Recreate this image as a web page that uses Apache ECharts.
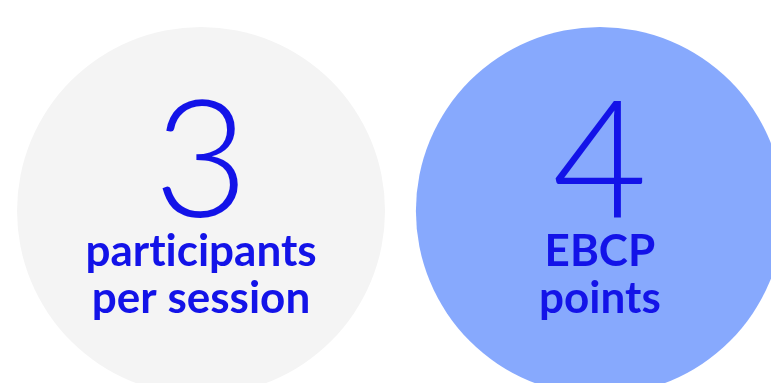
<!DOCTYPE html>
<html>
<head>
<meta charset="utf-8">
<script src="https://cdn.jsdelivr.net/npm/echarts@6/dist/echarts.min.js"></script>
<style>
  html, body { margin: 0; padding: 0; background: #fff; }
  #chart { width: 771px; height: 383px; }
</style>
</head>
<body>
<div id="chart"></div>
<script>
  // one bubble per fact
  const categories = ['participants', 'ebcp']
  const values = [3, 4]
  // \u200c keeps Lato from joining "ti" into a ligature
  const captions = ['part\u200cicipants\nper session', 'EBCP\npoints']
  const fills = ['#f4f4f4', '#87a9fd']

  const textBlue = '#1313e8'

  const chart = echarts.init(document.getElementById('chart'))

  chart.setOption({
    animation: false,
    grid: { left: 0, right: 0, top: 0, bottom: 0 },
    xAxis: {
      type: 'value',
      // bubble 0 sits at x≈201px, bubble 1 at x≈600px
      min: -0.504,
      max: 1.429,
      show: false,
    },
    yAxis: {
      type: 'value',
      min: 0.092,
      max: 1,
      show: false,
    },
    series: [
      {
        type: 'scatter',
        symbol: 'circle',
        symbolSize: 368,
        silent: true,
        data: values.map((v, i) => ({
          value: [i, 0.5],
          name: categories[i],
          itemStyle: { color: fills[i], opacity: 1 },
          label: {
            formatter: () =>
              `{num|${v}}\n` +
              captions[i]
                .split('\n')
                .map((line) => `{txt|${line}}`)
                .join('\n'),
          },
        })),
        label: {
          show: true,
          position: 'inside',
          align: 'center',
          rich: {
            num: {
              fontFamily: 'Lato',
              fontWeight: 300,
              fontSize: 164,
              lineHeight: 129,
              color: textBlue,
              align: 'center',
            },
            txt: {
              fontFamily: 'Lato',
              fontWeight: 'bold',
              fontSize: 44,
              lineHeight: 47,
              color: textBlue,
              align: 'center',
            },
          },
        },
      },
    ],
  })
</script>
</body>
</html>
